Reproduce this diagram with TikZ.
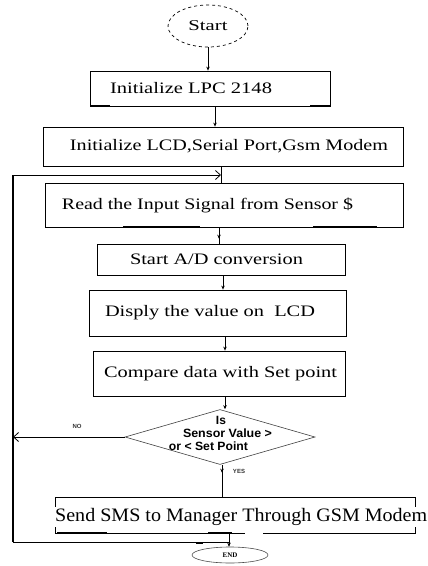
\documentclass[tikz,border=0pt]{standalone}
\usepackage{graphicx}
\usepackage{fontspec}
\setmainfont{Liberation Serif}
\setsansfont{Liberation Sans}
\usetikzlibrary{arrows.meta,shapes.geometric,decorations.markings}
\newcommand{\bxt}[4]{\makebox[#1][l]{\hspace*{#2}\resizebox{#3}{\height}{#4}}}
\tikzset{
  fbox/.style={draw, line width=0.8pt, inner sep=0pt, minimum width=#1},
  conn/.style={line width=0.8pt},
  arr/.style={line width=0.8pt, -{Stealth[length=4pt,width=3.5pt]}},
  openarr/.style={line width=0.8pt, -{Straight Barb[length=5pt,width=9pt,line width=0.8pt]}},
  midarrow/.style={line width=0.8pt, postaction={decorate}, decoration={markings, mark=at position #1 with {\arrow{Stealth[length=4pt,width=3.5pt]}}}},
  artifact/.style={line width=1.6pt},
  boxfont/.style={font=\fontsize{16}{19}\selectfont},
  dtext/.style={font=\sffamily\bfseries\fontsize{12}{14}\selectfont, inner sep=0pt},
  tinylab/.style={font=\sffamily\bfseries\fontsize{6}{7}\selectfont, inner sep=0pt, text=black!80}
}
\begin{document}
\begin{tikzpicture}[x=1pt,y=-1pt]
\useasboundingbox (0,0) rectangle (428,566);
% terminals
\node[draw, dashed, ellipse, line width=0.7pt, minimum width=80pt, minimum height=42pt, inner sep=0pt,
  font=\fontsize{15}{17}\selectfont] (s) at (208,26) {\resizebox{39pt}{\height}{Start}};
\node[draw, ellipse, line width=0.6pt, draw=black!70, minimum width=76pt, minimum height=16pt, inner sep=0pt,
  font=\bfseries\fontsize{7}{8}\selectfont] (e) at (230,555) {END};
% process boxes
\node[fbox=240pt, minimum height=35pt, boxfont] (b1) at (210,88.5) {\bxt{240pt}{20pt}{162pt}{Initialize LPC 2148}};
\node[fbox=360pt, minimum height=39pt, boxfont] (b2) at (223,146.5) {\bxt{360pt}{27pt}{318pt}{Initialize LCD,Serial Port,Gsm Modem}};
\node[fbox=358pt, minimum height=44pt, boxfont] (b3) at (224,205) {\bxt{358pt}{17pt}{291pt}{Read the Input Signal from Sensor \$}};
\node[fbox=248pt, minimum height=31pt, boxfont] (b4) at (221,259.5) {\bxt{248pt}{33pt}{173pt}{Start A/D conversion}};
\node[fbox=257pt, minimum height=46pt, boxfont] (b5) at (217.5,313) {\bxt{257pt}{16pt}{210pt}{Disply the value on\ \ LCD}};
\node[fbox=252pt, minimum height=45pt, boxfont] (b6) at (219,373.5) {\bxt{252pt}{11pt}{233pt}{Compare data with Set point}};
\node[fbox=360pt, minimum height=36pt] (b7) at (235,515) {};
\node[fill=white, inner xsep=0pt, inner ysep=1pt, font=\fontsize{19}{21}\selectfont, anchor=west] (t7) at (55,517)
  {\resizebox{372pt}{\height}{Send SMS to Manager Through GSM Modem}};
% decision
\node[draw, diamond, line width=0.6pt, draw=black!75, minimum width=190pt, minimum height=55pt, inner sep=0pt] (d) at (220,437) {};
\node[dtext] (dt1) at (221,420) {Is};
\node[dtext] (dt2) at (227.5,433) {\resizebox{89pt}{\height}{Sensor Value >}};
\node[dtext] (dt3) at (208.5,446) {\resizebox{79pt}{\height}{or < Set Point}};
\node[tinylab] (no) at (77,426) {NO};
\node[tinylab] (yes) at (239,471) {YES};
% coordinates for loop
\coordinate (fbL) at (13,542);
\coordinate (fbT) at (13,175);
\coordinate (m) at (221,175);
\coordinate (j) at (229,542);
% connectors
\draw[arr] (s.south) -- (s.south |- b1.north);
\draw[arr] ([xshift=5pt]b1.south) -- ([xshift=5pt]b1.south |- b2.north);
\draw[conn] ([xshift=-2pt]b2.south) -- ([xshift=-2pt]b2.south |- b3.north);
\draw[midarrow=0.7] ([xshift=-5pt]b3.south) -- ([xshift=-5pt]b3.south |- b4.north);
\draw[arr] ([xshift=2pt]b4.south) -- ([xshift=2pt]b4.south |- b5.north);
\draw[arr] ([xshift=7.5pt]b5.south) -- ([xshift=7.5pt]b5.south |- b6.north);
\draw[arr] ([xshift=6pt]b6.south) -- ([xshift=6pt]b6.south |- d.north);
\draw[midarrow=0.25] ([xshift=2pt]d.south) -- ([xshift=2pt]d.south |- b7.north);
\draw[arr] ([xshift=-6pt]b7.south) -- ([xshift=-6pt]b7.south |- e.north);
\draw[conn] (j) -- (fbL);
\draw[line width=1.2pt] (fbL) -- (fbT);
\draw[openarr] (fbT) -- (m);
\draw[openarr] (d.west) -- (d.west -| fbL);
% scan artifacts
\draw[artifact] (90,106) -- (110,106);
\draw[artifact] (310,106) -- (330,106);
\draw[artifact] (123,227) -- (200,227);
\draw[artifact] (313,227) -- (377,227);
\draw[artifact] (57,533) -- (107,533);
\draw[artifact] (208,533) -- (232,533);
\draw[white, line width=1.5pt] (245,533) -- (263,533);
\draw[artifact] (196,543) -- (203,543);
\end{tikzpicture}
\end{document}
